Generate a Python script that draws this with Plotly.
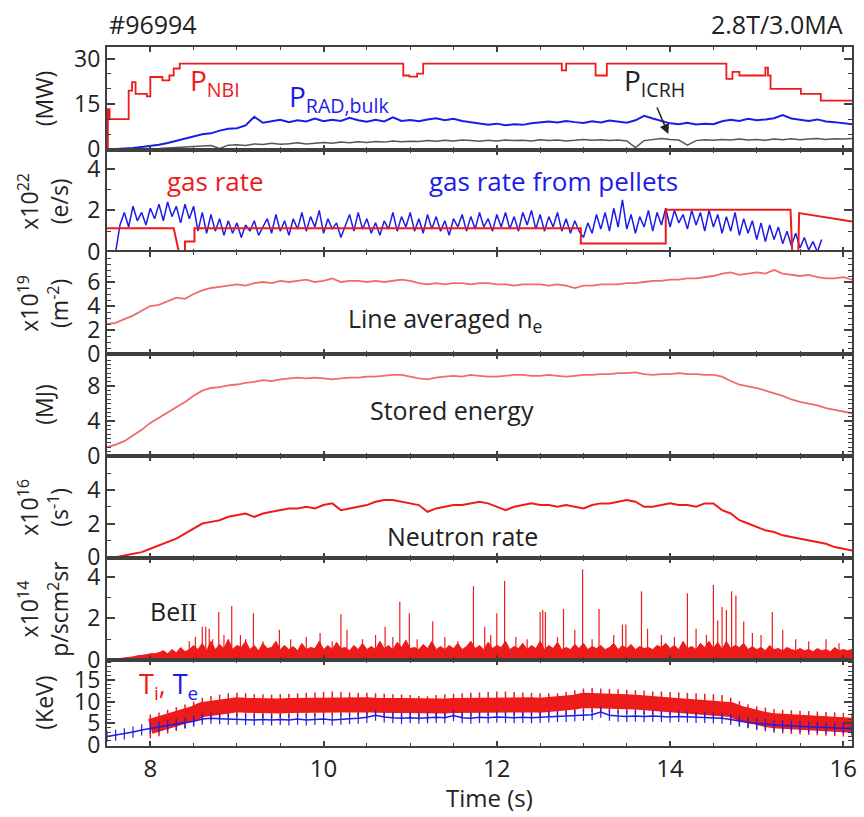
import numpy as np
import plotly.graph_objects as go
from plotly.subplots import make_subplots

# ---------------- data ----------------
# Panel 1: powers (MW)
t_nbi = [7.50, 7.51, 7.53, 7.75, 7.79, 7.83, 7.96, 8.00, 8.14, 8.22, 8.27, 8.34, 10.92, 10.99, 11.08,
         11.15, 12.75, 12.80, 13.14, 13.27, 14.65, 14.72, 14.80, 15.10, 15.13, 15.16, 15.51, 15.74, 16.10]
p_nbi = [0.0, 13.3, 10.0, 19.4, 22.2, 18.3, 17.5, 23.9, 22.8, 24.4, 26.7, 28.3, 24.4, 24.0, 25.0,
         28.3, 26.1, 28.3, 24.4, 28.3, 23.3, 25.6, 24.4, 27.0, 24.4, 20.0, 18.3, 16.1, 16.1]

t0_01 = 7.5  # start of 0.1 s sampled signals
p_rad = [0.0, 0.1, 0.3, 0.5, 0.8, 1.1, 1.5, 2.1, 2.8, 3.4, 4.2, 5.0, 5.3, 6.2, 6.8, 7.0, 7.9, 10.8, 8.8, 9.2,
         9.8, 9.0, 9.6, 9.2, 10.2, 9.3, 9.8, 9.4, 10.4, 9.6, 9.1, 9.8, 9.2, 10.6, 9.4, 9.7, 9.3, 9.9, 10.3, 9.6,
         10.1, 9.4, 9.0, 8.4, 8.1, 8.5, 8.0, 8.3, 8.1, 8.6, 8.8, 9.2, 8.9, 9.4, 9.0, 8.7, 9.3, 8.9, 9.5, 9.1,
         8.8, 9.6, 11.1, 10.2, 9.4, 8.6, 8.3, 8.8, 8.2, 8.5, 8.3, 9.3, 9.8, 9.4, 10.1, 9.6, 9.9, 10.3, 11.3, 10.2,
         9.8, 9.4, 9.9, 9.2, 9.0, 8.6, 8.3]
p_icrh = [0, 0, 0, 0, 0.1, 0.2, 0.3, 0.5, 0.7, 0.9, 1.0, 1.2, 1.3, 0.3, 1.4, 1.5, 1.3, 1.8, 1.6, 2.0,
          1.7, 1.9, 2.2, 1.8, 2.1, 2.3, 2.0, 2.4, 2.2, 2.5, 2.3, 2.6, 2.4, 2.8, 2.5, 2.7, 2.6, 2.9, 2.7, 3.0,
          2.8, 3.1, 2.9, 2.7, 3.0, 2.8, 3.1, 2.9, 3.0, 2.8, 3.2, 2.9, 3.1, 2.8, 3.0, 3.3, 3.0, 3.2, 2.9, 3.1,
          2.8, 0.6, 2.9, 3.3, 3.6, 3.3, 3.1, 1.4, 2.9, 3.2, 3.0, 3.3, 3.1, 3.4, 3.1, 3.3, 3.0, 3.4, 3.2, 3.5,
          3.2, 3.4, 3.6, 3.3, 3.5, 3.4, 3.6]

# Panel 2: gas rates (x1e22 e/s)
t_gas = [7.50, 8.27, 8.33, 8.40, 8.40, 8.51, 8.51, 12.97, 12.97, 13.95, 13.95, 15.39, 15.41, 15.48, 15.49, 16.10]
g_gas = [1.14, 1.14, 0.0, 0.0, 0.5, 0.5, 1.14, 1.14, 0.41, 0.41, 2.03, 2.03, 0.0, 0.0, 1.87, 1.46]

t0_pel = 7.60  # pellet-derived gas rate sampled every 0.05 s
g_pel = [0.0, 1.3, 1.9, 1.2, 2.2, 1.5, 1.9, 1.3, 2.1, 1.6, 2.3, 1.5, 2.4, 1.7, 2.2, 1.4, 2.3, 1.6, 2.2, 1.0,
         1.9, 0.9, 1.8, 1.0, 1.6, 0.8, 1.5, 0.9, 1.4, 0.7, 1.3, 1.0, 1.5, 0.8, 1.2, 1.6, 0.9, 1.8, 1.0, 1.5,
         0.8, 1.6, 1.1, 1.9, 1.0, 1.7, 1.2, 2.0, 0.9, 1.6, 1.1, 1.4, 0.7, 1.3, 1.8, 1.0, 1.9, 1.1, 1.6, 0.9,
         1.4, 0.8, 1.5, 1.1, 1.9, 1.0, 1.7, 1.2, 1.9, 1.0, 1.6, 0.9, 1.8, 1.1, 1.7, 1.0, 1.5, 0.8, 1.6, 1.2,
         1.8, 1.0, 1.7, 1.1, 1.9, 1.2, 1.6, 1.0, 1.8, 1.2, 1.9, 1.1, 1.7, 1.0, 1.9, 1.3, 2.0, 1.1, 1.8, 1.0,
         1.7, 1.2, 1.9, 1.0, 1.6, 0.9, 1.5, 1.0, 0.7, 1.4, 0.9, 1.8, 1.1, 1.9, 1.0, 2.1, 1.2, 2.5, 1.1, 1.8,
         0.9, 1.7, 1.2, 2.0, 1.0, 1.9, 1.3, 2.1, 1.2, 2.0, 1.4, 1.8, 1.1, 2.0, 1.3, 1.9, 1.0, 2.0, 1.2, 1.8,
         0.9, 1.7, 1.0, 1.9, 0.8, 1.6, 0.9, 1.5, 0.6, 1.4, 0.5, 1.3, 0.6, 1.2, 0.4, 1.0, 0.3, 0.9, 0.2, 0.7,
         0.1, 0.5, 0.0, 0.6]

# Panel 3: line averaged density (x1e19 m^-2), 0.1 s
n_e = [2.5, 2.6, 2.9, 3.2, 3.6, 4.0, 4.1, 4.4, 4.7, 4.6, 5.0, 5.3, 5.5, 5.6, 5.7, 5.8, 5.7, 5.9, 6.0, 5.9,
       6.1, 6.0, 6.1, 6.2, 6.0, 6.1, 6.3, 6.0, 6.1, 6.1, 6.0, 6.1, 6.0, 6.1, 6.2, 6.1, 5.9, 5.8, 5.9, 5.8,
       5.9, 5.9, 5.8, 5.9, 5.9, 5.8, 5.8, 5.7, 5.8, 5.8, 5.8, 5.7, 5.8, 5.7, 5.5, 5.7, 5.7, 5.8, 5.8, 5.8,
       5.9, 5.9, 6.0, 6.1, 6.1, 6.2, 6.2, 6.3, 6.3, 6.4, 6.5, 6.7, 6.8, 6.6, 6.7, 6.8, 6.7, 7.0, 6.7, 6.6,
       6.5, 6.6, 6.4, 6.3, 6.3, 6.4, 6.2]

# Panel 4: stored energy (MJ), 0.1 s
w_dia = [1.0, 1.3, 1.7, 2.3, 3.0, 3.8, 4.4, 5.0, 5.6, 6.2, 6.9, 7.5, 7.8, 7.9, 8.1, 8.2, 8.4, 8.5, 8.7, 8.6,
         8.8, 8.9, 9.0, 8.9, 9.0, 8.9, 8.8, 8.9, 9.0, 9.0, 9.1, 9.1, 9.2, 9.3, 9.3, 9.1, 8.9, 8.8, 9.0, 9.1,
         9.2, 9.1, 9.3, 9.2, 9.1, 9.1, 9.2, 9.3, 9.3, 9.2, 9.2, 9.3, 9.2, 9.1, 9.2, 9.3, 9.3, 9.4, 9.4, 9.5,
         9.5, 9.6, 9.4, 9.3, 9.4, 9.4, 9.5, 9.4, 9.4, 9.3, 9.3, 9.1, 8.6, 8.2, 8.0, 7.8, 7.5, 7.2, 6.9, 6.5,
         6.2, 6.0, 5.8, 5.5, 5.3, 5.1, 4.9]

# Panel 5: neutron rate (x1e16 s^-1), 0.1 s
r_neut = [0.0, 0.0, 0.1, 0.2, 0.3, 0.5, 0.7, 0.9, 1.1, 1.4, 1.7, 2.0, 2.1, 2.2, 2.4, 2.5, 2.6, 2.4, 2.6, 2.7,
          2.8, 2.9, 2.9, 3.0, 2.9, 3.1, 3.2, 2.8, 2.9, 3.0, 3.1, 3.3, 3.4, 3.4, 3.3, 3.2, 3.1, 2.7, 2.9, 3.0,
          3.1, 3.1, 3.2, 3.3, 3.2, 3.0, 2.8, 3.0, 3.1, 3.2, 3.1, 3.1, 3.0, 3.1, 3.0, 2.9, 3.1, 3.2, 3.2, 3.3,
          3.4, 3.3, 3.0, 3.0, 3.1, 3.2, 3.1, 3.1, 3.0, 3.2, 3.2, 2.8, 2.6, 2.2, 2.0, 1.8, 1.6, 1.5, 1.3, 1.2,
          1.1, 1.0, 0.9, 0.8, 0.6, 0.5, 0.4]

# Panel 6: BeII (x1e14 p/scm^2sr): background level every 0.05 s, plus spikes
t0_be = 7.50
be_base = [0.0, 0.02, 0.05, 0.08, 0.1, 0.12, 0.15, 0.2, 0.22, 0.25, 0.3,
           0.3, 0.35, 0.45, 0.3, 0.5, 0.35, 0.6, 0.4, 0.5, 0.7,
           0.5, 0.8, 0.45, 0.9, 0.5, 0.75, 0.55, 1.0, 0.5, 0.7,
           0.6, 0.9, 0.5, 0.7, 0.45, 0.8, 0.55, 0.6, 0.9, 0.5,
           0.7, 0.5, 0.65, 0.45, 0.8, 0.5, 0.6, 0.55, 0.9, 0.5,
           0.7, 0.5, 0.85, 0.55, 0.6, 0.45, 0.7, 0.5, 0.8, 0.5,
           0.65, 0.5, 0.9, 0.55, 0.7, 0.5, 0.85, 0.6, 0.95, 0.55,
           0.6, 0.5, 0.75, 0.55, 0.9, 0.5, 0.65, 0.5, 0.7, 0.55,
           0.8, 0.5, 0.65, 0.9, 0.55, 0.7, 0.5, 0.85, 0.55, 0.7,
           0.6, 0.9, 0.5, 0.65, 0.55, 0.8, 0.5, 0.7, 0.55, 0.9,
           0.5, 0.7, 0.55, 0.85, 0.5, 0.6, 0.5, 0.75, 0.55, 0.8,
           0.5, 0.65, 0.55, 0.7, 0.5, 0.6, 0.8, 0.5, 0.7, 0.55,
           0.75, 0.5, 0.65, 0.55, 0.6, 0.5, 0.7, 0.6, 0.8, 0.55,
           0.7, 0.5, 0.9, 0.55, 0.65, 0.5, 0.8, 0.6, 0.9, 0.55,
           0.85, 0.5, 0.9, 0.55, 0.7, 0.6, 0.8, 0.5, 0.65, 0.5,
           0.6, 0.45, 0.7, 0.5, 0.55, 0.45, 0.6, 0.5, 0.45, 0.55,
           0.45, 0.5, 0.4, 0.55, 0.45, 0.5, 0.4, 0.6, 0.45, 0.5,
           0.45, 0.5]
spike_t = [8.45, 8.52, 8.60, 8.64, 8.68, 8.72, 8.79, 8.85, 8.94, 9.04, 9.10, 9.19, 9.30, 9.49, 9.62, 9.80,
           9.96, 10.10, 10.20, 10.27, 10.45, 10.60, 10.71, 10.80, 10.88, 10.99, 11.08, 11.26, 11.40, 11.55,
           11.73, 11.86, 11.93, 12.00, 12.09, 12.22, 12.35, 12.50, 12.53, 12.56, 12.70, 12.77, 12.90, 12.99,
           13.10, 13.18, 13.35, 13.45, 13.49, 13.67, 13.74, 13.90, 14.05, 14.20, 14.30, 14.42, 14.50, 14.55,
           14.60, 14.65, 14.71, 14.76, 14.85, 14.95, 15.05, 15.18, 15.30, 15.45, 15.60, 15.80, 15.95]
spike_h = [0.9, 1.1, 1.6, 1.6, 1.5, 1.0, 2.3, 1.2, 2.6, 1.2, 1.0, 2.25, 0.9, 1.45, 1.0, 1.1,
           1.3, 0.9, 2.2, 1.45, 1.0, 1.2, 1.6, 1.1, 2.8, 2.25, 1.0, 1.85, 1.1, 0.9,
           3.55, 1.6, 1.2, 2.25, 3.8, 1.1, 1.0, 2.3, 2.4, 2.3, 1.1, 2.45, 1.45, 4.35,
           1.0, 2.45, 1.2, 1.7, 1.7, 3.3, 1.5, 1.2, 1.1, 3.2, 1.5, 1.2, 3.6, 1.9,
           2.55, 2.4, 3.3, 3.1, 1.85, 1.3, 1.2, 2.3, 1.45, 1.0, 0.9, 1.0, 0.8]

# Panel 7: temperatures (keV)
t0_ti = 8.0
T_i = [4.3, 4.8, 5.4, 6.0, 6.6, 7.3, 8.2, 8.6, 8.9, 9.2, 9.3, 9.2, 9.0, 9.0, 8.9, 9.0, 9.1, 9.2, 9.3, 9.4,
       9.5, 9.6, 9.5, 9.4, 9.3, 9.3, 9.2, 9.1, 9.0, 8.9, 8.8, 8.6, 8.5, 8.8, 9.0, 9.1, 9.2, 9.3, 9.4, 9.5,
       9.6, 9.6, 9.5, 9.4, 9.3, 9.2, 9.2, 9.2, 9.5, 9.9, 10.3, 10.4, 10.3, 10.2, 10.1, 10.0, 9.9, 9.8, 9.6, 9.6,
       9.5, 9.4, 9.3, 9.2, 9.1, 9.0, 8.8, 8.2, 7.4, 6.7, 6.2, 5.9, 5.6, 5.4, 5.3, 5.2, 5.1, 5.0, 4.9, 4.8,
       4.7, 4.6]
T_e = [2.0, 2.3, 2.6, 3.0, 3.5, 3.9, 4.2, 4.5, 4.8, 5.1, 5.5, 6.0, 6.2, 6.1, 6.0, 6.0, 5.9, 5.8, 5.9, 5.8,
       5.9, 5.8, 6.0, 5.8, 5.9, 6.0, 5.8, 6.0, 6.1, 6.2, 6.4, 6.9, 6.5, 6.3, 6.2, 6.3, 6.2, 6.3, 6.4, 6.3,
       6.8, 6.3, 6.2, 6.4, 6.3, 6.5, 6.4, 6.3, 6.4, 6.3, 6.4, 6.5, 6.6, 6.6, 6.8, 6.9, 7.0, 7.6, 6.9, 6.7,
       6.6, 6.7, 6.6, 6.7, 6.6, 6.5, 6.6, 6.5, 6.4, 6.4, 6.3, 6.2, 5.9, 5.5, 5.2, 5.0, 4.8, 4.6, 4.5, 4.4,
       4.3, 4.2, 4.1, 4.0, 3.9, 3.9, 3.8]

x_ticks = [8, 10, 12, 14, 16]


def grid(t0, dt, vals):
    return [round(t0 + dt * i, 3) for i in range(len(vals))]


# ---------------- figure ----------------
RED = "#ee1b1b"
PINK = "#f26a6a"
BLUE = "#1c1ce8"
GRAY = "#555555"
TXT = "#222222"
FONT = "Open Sans"

fig = make_subplots(rows=7, cols=1, shared_xaxes=True, vertical_spacing=0,
                    row_heights=[103, 102, 102, 102, 102, 102, 86])

# row 1
fig.add_trace(go.Scatter(x=t_nbi, y=p_nbi, mode="lines", line=dict(color=RED, width=1.8, shape="hv")), 1, 1)
fig.add_trace(go.Scatter(x=grid(t0_01, 0.1, p_icrh), y=p_icrh, mode="lines", line=dict(color=GRAY, width=1.5)), 1, 1)
fig.add_trace(go.Scatter(x=grid(t0_01, 0.1, p_rad), y=p_rad, mode="lines", line=dict(color=BLUE, width=2)), 1, 1)
# row 2
fig.add_trace(go.Scatter(x=grid(t0_pel, 0.05, g_pel), y=g_pel, mode="lines", line=dict(color=BLUE, width=1.5)), 2, 1)
fig.add_trace(go.Scatter(x=t_gas, y=g_gas, mode="lines", line=dict(color=RED, width=2)), 2, 1)
# row 3 / 4 / 5
fig.add_trace(go.Scatter(x=grid(t0_01, 0.1, n_e), y=n_e, mode="lines", line=dict(color=PINK, width=1.8)), 3, 1)
fig.add_trace(go.Scatter(x=grid(t0_01, 0.1, w_dia), y=w_dia, mode="lines", line=dict(color=PINK, width=1.8)), 4, 1)
fig.add_trace(go.Scatter(x=grid(t0_01, 0.1, r_neut), y=r_neut, mode="lines", line=dict(color=RED, width=2)), 5, 1)
# row 6
fig.add_trace(go.Scatter(x=grid(t0_be, 0.05, be_base), y=be_base, mode="lines", fill="tozeroy",
                         fillcolor=RED, line=dict(color=RED, width=1)), 6, 1)
sx, sy = [], []
for t, h in zip(spike_t, spike_h):
    sx += [t, t, None]
    sy += [0, h, None]
fig.add_trace(go.Scatter(x=sx, y=sy, mode="lines", line=dict(color=RED, width=1.2)), 6, 1)
# row 7
fig.add_trace(go.Scatter(x=grid(t0_ti, 0.1, T_i), y=T_i, mode="lines+markers", line=dict(color=RED, width=15),
                         marker=dict(symbol="line-ns-open", size=17, color=RED, line=dict(color=RED, width=1.5))), 7, 1)
fig.add_trace(go.Scatter(x=grid(t0_01, 0.1, T_e), y=T_e, mode="lines+markers",
                         line=dict(color=BLUE, width=1.5),
                         marker=dict(symbol="line-ns-open", size=8, color=BLUE, line=dict(color=BLUE, width=1.2))), 7, 1)

# axes
axcol = "#404040"
for r in range(1, 8):
    fig.update_xaxes(row=r, col=1, range=[7.5, 16.1], tickvals=x_ticks, showgrid=False, zeroline=False,
                     showline=True, linecolor=axcol, linewidth=2, mirror="ticks", ticks="inside",
                     ticklen=5, tickwidth=2, tickcolor=axcol,
                     minor=dict(ticks="inside", dtick=0.5, tick0=8, ticklen=3, tickcolor=axcol, tickwidth=1),
                     tickfont=dict(family=FONT, size=24, color=TXT))

yspec = {
    1: dict(range=[-0.2, 33.8], tickvals=[0, 15, 30], minor=5),
    2: dict(range=[0, 4.9], tickvals=[0, 2, 4], minor=1),
    3: dict(range=[0, 8.5], tickvals=[0, 2, 4, 6], minor=0.5),
    4: dict(range=[0, 11.7], tickvals=[0, 4, 8], minor=0.5),
    5: dict(range=[-0.05, 6.02], tickvals=[0, 2, 4], minor=1),
    6: dict(range=[0, 4.9], tickvals=[0, 2, 4], minor=1),
    7: dict(range=[-0.2, 19.6], tickvals=[0, 5, 10, 15], minor=1),
}
for r, s in yspec.items():
    fig.update_yaxes(row=r, col=1, range=s["range"], tickvals=s["tickvals"], showgrid=False, zeroline=False,
                     showline=True, linecolor=axcol, linewidth=2, mirror="ticks", ticks="inside",
                     ticklen=8, tickwidth=2, tickcolor=axcol,
                     minor=dict(ticks="inside", dtick=s["minor"], tick0=0, ticklen=4, tickcolor=axcol, tickwidth=1),
                     tickfont=dict(family=FONT, size=23, color=TXT))

ann = []


def add_text(text, x, y, xref, yref, color=TXT, size=25, xanchor="left", yanchor="middle", angle=0):
    ann.append(dict(text=text, x=x, y=y, xref=xref, yref=yref, showarrow=False, xanchor=xanchor,
                    yanchor=yanchor, textangle=angle, font=dict(family=FONT, size=size, color=color)))


# headers
add_text("#96994", 0.0, 1.033, "paper", "paper", size=25)
add_text("2.8T/3.0MA", 0.99, 1.033, "paper", "paper", size=25, xanchor="right")

# y-axis titles
ytitles = {1: "(MW)", 2: "x10<sup>22</sup><br>(e/s)", 3: "x10<sup>19</sup><br>(m<sup>-2</sup>)", 4: "(MJ)",
           5: "x10<sup>16</sup><br>(s<sup>-1</sup>)", 6: "x10<sup>14</sup><br>p/scm<sup>2</sup>sr", 7: "(KeV)"}
for r, txt in ytitles.items():
    yref = "y domain" if r == 1 else f"y{r} domain"
    add_text(txt, -0.085, 0.5, "paper", yref, size=23, xanchor="center", angle=-90)

# in-panel labels
add_text("P<sub>NBI</sub>", 8.43, 22.1, "x", "y", color=RED, size=28)
add_text("P<sub>RAD,bulk</sub>", 9.58, 17.1, "x", "y", color=BLUE, size=28)
add_text("P<sub>ICRH</sub>", 13.45, 22.1, "x", "y", color=TXT, size=28)
ann.append(dict(x=13.98, y=5.1, xref="x", yref="y", text="", showarrow=True, ax=-12, ay=-28,
                arrowhead=2, arrowsize=1.3, arrowwidth=1.5, arrowcolor=TXT))
add_text("gas rate", 8.17, 3.4, "x2", "y2", color=RED, size=26)
add_text("gas rate from pellets", 11.19, 3.4, "x2", "y2", color=BLUE, size=26)
add_text("Line averaged n<sub>e</sub>", 10.26, 2.85, "x3", "y3", size=25)
add_text("Stored energy", 10.51, 5.3, "x4", "y4", size=25)
add_text("Neutron rate", 10.71, 1.24, "x5", "y5", size=25)
add_text("Be<span style='font-family:Liberation Serif'>II</span>", 7.97, 2.37, "x6", "y6", size=25)
add_text("<span style='color:%s'>T<sub>i</sub>,</span> <span style='color:%s'>T<sub>e</sub></span>" % (RED, BLUE),
         7.85, 13.7, "x7", "y7", color=RED, size=27)
add_text("Time (s)", 0.513, -0.074, "paper", "paper", size=24, xanchor="center")

fig.update_layout(width=864, height=817, margin=dict(l=107, r=7, t=47, b=71),
                  paper_bgcolor="white", plot_bgcolor="white", showlegend=False,
                  annotations=ann, font=dict(family=FONT, color=TXT))

fig.write_html("out.html")
